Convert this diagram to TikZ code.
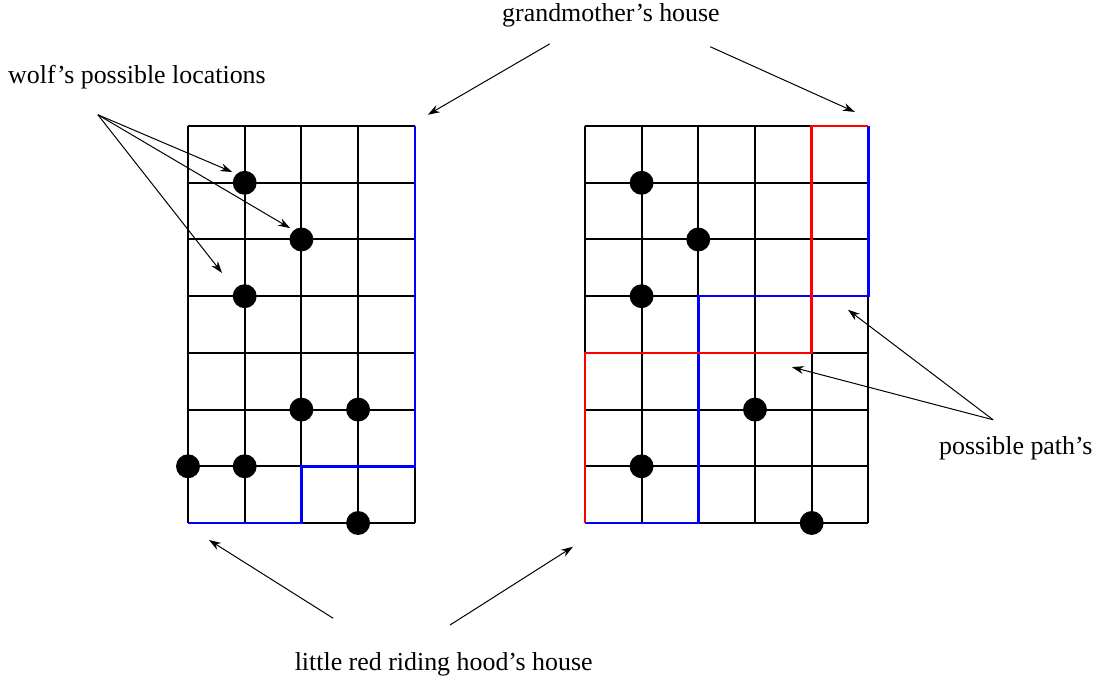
\documentclass[tikz,border=0pt]{standalone}
\usepackage{fontspec}
\setmainfont{Liberation Serif}
\usetikzlibrary{arrows.meta,positioning}

\begin{document}
\begin{tikzpicture}[
    >={Stealth[length=6pt,width=4pt]},
    % board and path styles
    board/.style={line width=1pt},
    wolf/.style={circle, fill=black, minimum size=12pt, inner sep=0},
    note/.style={font=\fontsize{13}{15}\selectfont, inner sep=0},
    pointer/.style={->, line width=0.5pt},
    bluepath/.style={draw=blue, line width=1.3pt},
    redpath/.style={draw=red, line width=1.3pt}
  ]
  \useasboundingbox (-3.316,-2.787) rectangle (16.226,9.224);

  % Grids
  \draw[board] (0,0) grid (4,7);
  \draw[board] (7,0) grid (12,7);

  % Paths
  \draw[bluepath] (0,0) -- (2,0) -- (2,1) -- (4,1) -- (4,7);
  \draw[bluepath] (7,0) -- (9,0) -- (9,4) -- (12,4) -- (12,7);
  \draw[redpath] (7,0) -- (7,3) -- (11,3) -- (11,7) -- (12,7);

  % Wolf positions
  \foreach \x/\y [count=\i] in {1/6,2/5,1/4,2/2,3/2,0/1,1/1,3/0}
    \node[wolf] (wl\i) at (\x,\y) {};
  \foreach \x/\y [count=\i] in {1/6,2/5,1/4,3/2,1/1,4/0}
    \node[wolf] (wr\i) at (7+\x,\y) {};

  % Labels
  \node[note] (granny) at (7.46,8.96) {grandmother's house};
  \node[note] (wolves) at (-0.90,7.87) {wolf's possible locations};
  \node[note] (paths) at (14.60,1.32) {possible path's};
  \node[note] (hood) at (4.51,-2.49) {little red riding hood's house};

  % Arrow ends
  \coordinate (granny-l) at (6.38,8.45);
  \coordinate (granny-r) at (9.21,8.40);
  \coordinate (wolves-s) at (-1.59,7.20);
  \coordinate (hood-l) at (2.56,-1.68);
  \coordinate (hood-r) at (4.62,-1.80);
  \coordinate (paths-s) at (14.20,1.82);
  \coordinate (tip-gl) at (4.23,7.20);
  \coordinate (tip-gr) at (11.76,7.25);
  \coordinate (tip-w1) at (0.78,6.19);
  \coordinate (tip-w2) at (1.80,5.20);
  \coordinate (tip-w3) at (0.60,4.41);
  \coordinate (tip-hl) at (0.37,-0.30);
  \coordinate (tip-hr) at (6.79,-0.42);
  \coordinate (tip-p1) at (11.64,3.76);
  \coordinate (tip-p2) at (10.65,2.75);

  % Arrows
  \draw[pointer] (granny-l) -- (tip-gl);
  \draw[pointer] (granny-r) -- (tip-gr);
  \draw[pointer] (wolves-s) -- (tip-w1);
  \draw[pointer] (wolves-s) -- (tip-w2);
  \draw[pointer] (wolves-s) -- (tip-w3);
  \draw[pointer] (hood-l) -- (tip-hl);
  \draw[pointer] (hood-r) -- (tip-hr);
  \draw[pointer] (paths-s) -- (tip-p1);
  \draw[pointer] (paths-s) -- (tip-p2);
\end{tikzpicture}
\end{document}
